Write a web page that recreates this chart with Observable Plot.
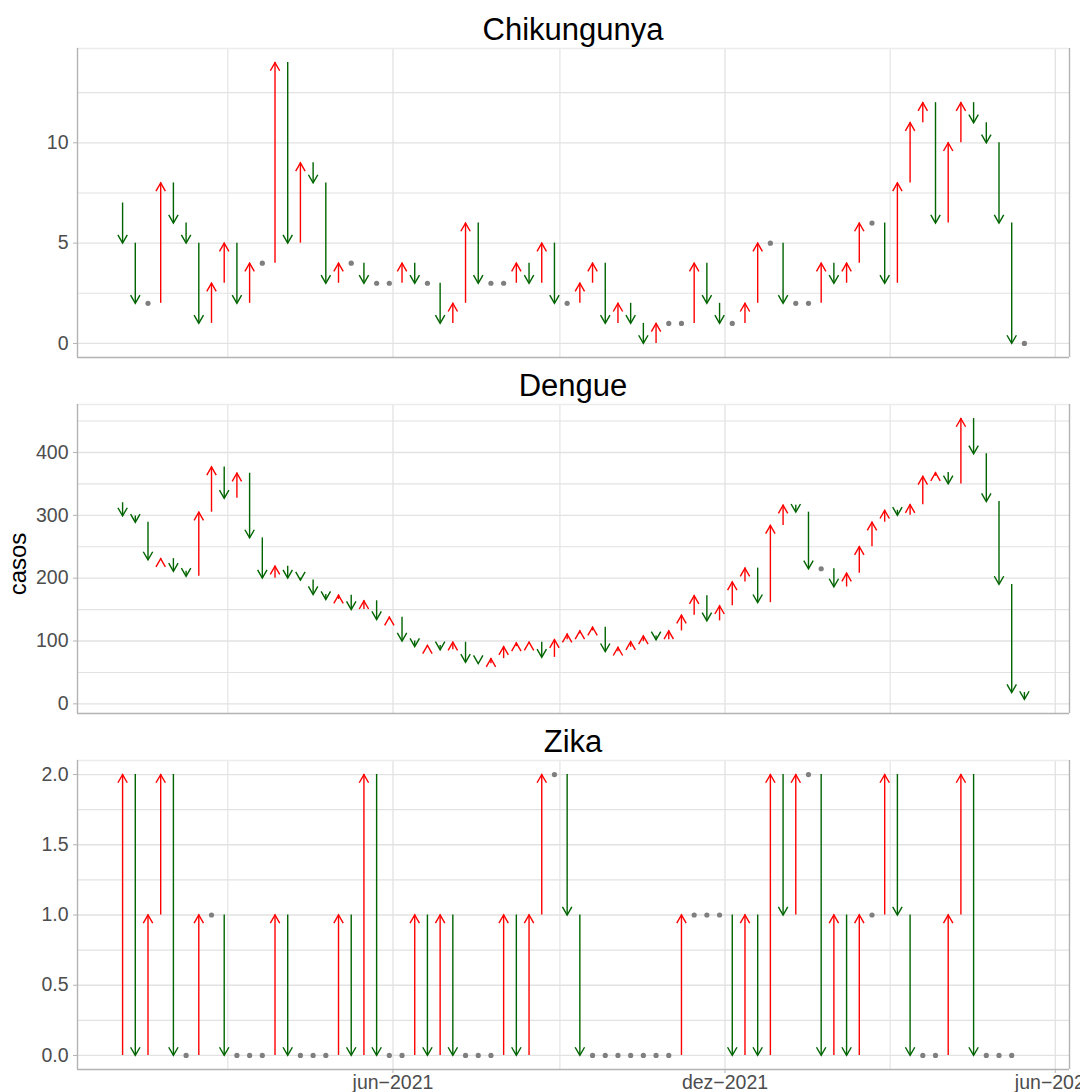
<!DOCTYPE html>
<html>
<head>
<meta charset="utf-8">
<script src="https://cdn.jsdelivr.net/npm/d3@7"></script>
<script src="https://cdn.jsdelivr.net/npm/@observablehq/plot@0.6"></script>
<style>
  body { margin: 0; background: #fff; }
  #wrap { position: relative; width: 1080px; height: 1092px; overflow: hidden; background: #fff;
          font-family: "Liberation Sans", Arial, sans-serif; }
  .title { position: absolute; left: 77px; width: 992px; text-align: center; font-size: 31px;
           line-height: 31px; color: #000; white-space: nowrap; }
  .panel { position: absolute; left: 0; }
  #ylab { position: absolute; left: 0; top: 0; }
</style>
</head>
<body>
<div id="wrap"></div>
<script>
// ---- data -------------------------------------------------------------
const firstWeek = "2021-01-03";            // first epidemiological week shown
const diseases = ["Chikungunya", "Dengue", "Zika"];

const chikPrev = 7;
const chik = [5,2,2,8,6,5,1,3,5,2, 4,4,14,5,9,8,3,4,4,3, 3,3,4,3,3,1,2,6,3,3,
              3,4,3,5,2,2,3,4,1,2, 1,0,1,1,1,4,2,1,1,2, 5,5,2,2,2,4,3,4,6,6,
              3,8,11,12,6,10,12,11,10,6, 0,0];

const dengPrev = 320;
const deng = [299,289,229,231,211,203,305,377,327,367, 264,200,219,200,197,174,166,173,150,164,
              134,138,100,91,93,86,98,66,64,72, 91,97,98,74,102,111,116,122,83,90,
              99,108,102,116,141,172,132,156,194,216, 161,284,316,305,215,215,186,208,250,289,
              308,300,317,362,368,350,454,398,322,190, 18,7];

const zikaPrev = 0;
const zika = [2,0,1,2,0,0,1,1,0,0, 0,0,1,0,0,0,0,1,0,2, 0,0,0,1,0,1,0,0,0,0,
              1,0,1,2,2,1,0,0,0,0, 0,0,0,0,1,1,1,1,0,1, 0,2,1,2,2,0,1,0,1,1,
              2,1,0,0,0,1,2,0,0,0, 0];

const yMajor = [[0,5,10], [0,100,200,300,400], [0,0.5,1,1.5,2]];
const yMinor = [[2.5,7.5,12.5], [50,150,250,350,450], [0.25,0.75,1.25,1.75]];
const yLabelFormat = [d3.format("d"), d3.format("d"), d3.format(".1f")];

const xTickDates = ["2021-06-01", "2021-12-01", "2022-06-01"];
const xTickLabels = ["jun\u22122021", "dez\u22122021", "jun\u22122022"];
const xMinorDates = ["2021-03-02", "2021-09-01", "2022-03-02"];

const yTitle = "casos";

// ---- build -------------------------------------------------------------
const start = new Date(firstWeek + "T00:00:00Z");
const weekDate = i => d3.utcDay.offset(start, 7 * i);
function rowsOf(prev, vals) {
  return vals.map((v, i) => ({date: weekDate(i), from: i === 0 ? prev : vals[i - 1], to: v}));
}
const series = [rowsOf(chikPrev, chik), rowsOf(dengPrev, deng), rowsOf(zikaPrev, zika)];

const allDates = series.flat().map(d => d.date);
const [x0, x1] = d3.extent(allDates);
const xPad = (x1 - x0) * 0.05;
const xDomain = [new Date(+x0 - xPad), new Date(+x1 + xPad)];
const xMajor = xTickDates.map(s => new Date(s + "T00:00:00Z"));
const xMinor = xMinorDates.map(s => new Date(s + "T00:00:00Z"));

const headUp = {draw(ctx) { ctx.moveTo(-4.7, 8.2); ctx.lineTo(0, 0); ctx.lineTo(4.7, 8.2); }};
const headDown = {draw(ctx) { ctx.moveTo(-4.7, -8.2); ctx.lineTo(0, 0); ctx.lineTo(4.7, -8.2); }};

const RED = "#ff0000", GREEN = "#006400", GREY = "#7f7f7f";
const GRID = "#e2e2e2", BORDER = "#b3b3b3", TOPBORDER = "#ececec", TEXT = "#4d4d4d";
const FONT = "'Liberation Sans', Arial, sans-serif";

const panelTops = [48, 404, 760];
const panelH = 309;
const mt = 4;

const wrap = document.getElementById("wrap");

series.forEach((rows, k) => {
  const vals = rows.flatMap(d => [d.from, d.to]);
  const [lo, hi] = d3.extent(vals);
  const pad = (hi - lo) * 0.05;
  const last = k === 2;
  const mb = last ? 23 : 4;
  const up = rows.filter(d => d.to > d.from);
  const down = rows.filter(d => d.to < d.from);
  const same = rows.filter(d => d.to === d.from);

  const marks = [
    Plot.gridY(yMinor[k], {stroke: GRID, strokeOpacity: 1, strokeWidth: 1.1}),
    Plot.gridY(yMajor[k], {stroke: GRID, strokeOpacity: 1, strokeWidth: 1.3}),
    Plot.gridX(xMinor, {stroke: GRID, strokeOpacity: 1, strokeWidth: 1.1}),
    Plot.gridX(xMajor, {stroke: GRID, strokeOpacity: 1, strokeWidth: 1.3}),
    Plot.ruleX(up, {x: "date", y1: "from", y2: "to", stroke: RED, strokeWidth: 1.4}),
    Plot.ruleX(down, {x: "date", y1: "from", y2: "to", stroke: GREEN, strokeWidth: 1.4}),
    Plot.dot(up, {x: "date", y: "to", symbol: headUp, stroke: RED, fill: "none", strokeWidth: 1.4, strokeLinejoin: "miter"}),
    Plot.dot(down, {x: "date", y: "to", symbol: headDown, stroke: GREEN, fill: "none", strokeWidth: 1.4, strokeLinejoin: "miter"}),
    Plot.dot(same, {x: "date", y: "to", r: 2.6, fill: GREY, stroke: "none"}),
    Plot.axisY(yMajor[k], {tickSize: 4, tickPadding: 5, stroke: BORDER, fill: TEXT, fontSize: 19.5,
                           tickFormat: yLabelFormat[k], label: null}),
    // panel border: top lighter (half hidden under the strip), other sides grey70
    Plot.ruleY([hi + pad], {stroke: TOPBORDER, strokeWidth: 1.4}),
    Plot.ruleY([lo - pad], {stroke: BORDER, strokeWidth: 1.4}),
    Plot.ruleX([xDomain[0], xDomain[1]], {stroke: BORDER, strokeWidth: 1.4})
  ];
  if (last) {
    marks.push(Plot.axisX(xMajor, {tickSize: 4, tickPadding: 2, stroke: BORDER, fill: TEXT, fontSize: 19.5,
      tickFormat: d => xTickLabels[xMajor.findIndex(t => +t === +d)], label: null}));
  }

  const chart = Plot.plot({
    width: 1080,
    height: mt + panelH + mb,
    marginLeft: 77, marginRight: 11, marginTop: mt, marginBottom: mb,
    x: {type: "utc", domain: xDomain, axis: null},
    y: {domain: [lo - pad, hi + pad], axis: null},
    style: {fontFamily: FONT, fontSize: "19.5px", background: "transparent", overflow: "visible"},
    marks
  });
  chart.classList.add("panel");
  chart.style.top = (panelTops[k] - mt) + "px";
  chart.style.maxWidth = "none";
  wrap.appendChild(chart);

  const t = document.createElement("div");
  t.className = "title";
  t.textContent = diseases[k];
  const baseline = panelTops[k] - 8;
  t.style.top = (baseline - 26.2) + "px";
  wrap.appendChild(t);
});

// rotated y-axis title
const NS = "http://www.w3.org/2000/svg";
const ysvg = document.createElementNS(NS, "svg");
ysvg.setAttribute("id", "ylab");
ysvg.setAttribute("width", "40");
ysvg.setAttribute("height", "1092");
ysvg.style.position = "absolute";
const yt = document.createElementNS(NS, "text");
yt.setAttribute("transform", "translate(26,564) rotate(-90)");
yt.setAttribute("text-anchor", "middle");
yt.setAttribute("font-family", FONT);
yt.setAttribute("font-size", "24");
yt.setAttribute("fill", "#000");
yt.textContent = yTitle;
ysvg.appendChild(yt);
wrap.appendChild(ysvg);
</script>
</body>
</html>
